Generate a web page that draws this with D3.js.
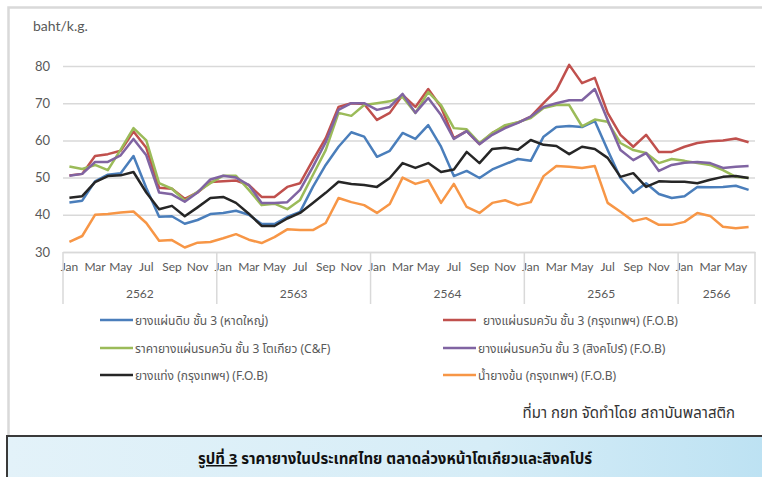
<!DOCTYPE html>
<html>
<head>
<meta charset="utf-8">
<script src="https://cdn.jsdelivr.net/npm/d3@7"></script>
<style>
  body { margin: 0; background: #fff; }
  svg { display: block; font-family: "Noto Sans Thai", "Noto Sans", "DejaVu Sans", sans-serif; }
</style>
</head>
<body>
<div id="chart"></div>
<script>
// months Jan 2562 .. Jun 2566
const monthNames = ["Jan","Feb","Mar","Apr","May","Jun","Jul","Aug","Sep","Oct","Nov","Dec"];
const years = ["2562", "2563", "2564", "2565", "2566"];
const monthsInYear = [12, 12, 12, 12, 6];
const yTicks = [30, 40, 50, 60, 70, 80];

const rawSheet = [43.3, 43.8, 49, 50.8, 51.2, 55.8, 47.2, 39.5, 39.6, 37.6, 38.6, 40.2,
  40.5, 41.1, 40, 37.5, 37.5, 39.4, 40.8, 47.5, 53.4, 58.3, 62.2, 61,
  55.6, 57.2, 62, 60.4, 64.1, 58.3, 50.4, 51.8, 49.9, 52.2, 53.6, 55,
  54.5, 61, 63.6, 63.9, 63.6, 65.2, 57.4, 49.9, 45.9, 48.5, 45.6, 44.5,
  45, 47.5, 47.4, 47.5, 47.8, 46.7];
const rssBangkok = [50.6, 51, 55.8, 56.3, 57.2, 62.4, 58, 47.3, 47, 44.3, 46, 48.8,
  49, 49.2, 48, 44.8, 44.8, 47.5, 48.5, 54.7, 60.6, 69, 70, 69.8,
  65.5, 67.4, 72.2, 69, 73.8, 69, 60.6, 62.5, 59, 62, 63.8, 64.8,
  66.4, 70, 73.5, 80.3, 75.4, 76.8, 67.4, 61.5, 58.3, 61.5, 56.9, 56.9,
  58.3, 59.3, 59.8, 60, 60.5, 59.5];
const rssTokyo = [53, 52.3, 53.4, 52, 57.5, 63.3, 60, 48.5, 47, 43.8, 46.2, 48.5,
  50.5, 50.5, 46.7, 42.6, 43, 41.5, 44, 50.7, 57.4, 67.4, 66.6, 69.5,
  70, 70.5, 71.7, 67.4, 73, 69.5, 63.3, 63, 59.3, 62, 64.1, 64.9,
  66, 68.7, 69.5, 69.5, 63.8, 65.6, 65, 59.3, 57.4, 56.6, 53.9, 55,
  54.5, 53.9, 53.4, 52, 50.2, 49.9];
const rssSingapore = [50.5, 51, 54.2, 54.2, 56, 60.4, 56, 46, 45.5, 43.5, 46, 49.5,
  50.5, 50, 48, 43.2, 43.2, 43.4, 46.7, 52.9, 59.5, 68.2, 70, 70,
  68.2, 69, 72.5, 67.4, 71.4, 66.8, 60.4, 62.5, 59, 61.5, 63.3, 64.7,
  66.4, 69, 70, 70.8, 70.8, 73.8, 65.5, 57.4, 54.7, 56.6, 51.8, 53.4,
  54, 54.2, 53.9, 52.6, 52.9, 53.1];
const blockRubber = [44.6, 45, 48.8, 50.4, 50.6, 51.5, 46, 41.5, 42.4, 39.6, 42, 44.5,
  44.8, 43.2, 40.3, 37, 37, 39, 40.5, 43.2, 45.9, 48.9, 48.3, 48,
  47.5, 49.9, 53.9, 52.6, 53.9, 51.5, 52.2, 56.9, 53.9, 57.7, 58, 57.5,
  60.1, 58.8, 58.5, 56.3, 58.3, 57.7, 55.3, 50.2, 51.2, 47.5, 49, 48.9,
  48.9, 48.5, 49.4, 50.2, 50.4, 49.9];
const latex = [32.7, 34.3, 40, 40.2, 40.6, 40.9, 37.8, 33, 33.2, 31.2, 32.5, 32.7,
  33.7, 34.8, 33.3, 32.4, 34, 36.1, 35.9, 35.9, 37.8, 44.5, 43.4, 42.6,
  40.5, 42.9, 50, 48.3, 49.3, 43.2, 48.3, 42.1, 40.5, 43.2, 43.9, 42.6,
  43.4, 50.4, 53.1, 52.9, 52.6, 53.1, 43.2, 40.8, 38.3, 39.1, 37.3, 37.3,
  38.1, 40.5, 39.7, 36.8, 36.4, 36.7];

const seriesNames = [
  "ยางแผ่นดิบ ชั้น 3 (หาดใหญ่)",
  "ยางแผ่นรมควัน ชั้น 3 (กรุงเทพฯ) (F.O.B)",
  "ราคายางแผ่นรมควัน ชั้น 3 โตเกียว (C&F)",
  "ยางแผ่นรมควัน ชั้น 3 (สิงคโปร์) (F.O.B)",
  "ยางแท่ง (กรุงเทพฯ) (F.O.B)",
  "น้ำยางข้น (กรุงเทพฯ) (F.O.B)"
];
const seriesValues = [rawSheet, rssBangkok, rssTokyo, rssSingapore, blockRubber, latex];
const seriesColors = ["#4a7ebb", "#c0504d", "#9bbb59", "#8064a2", "#262626", "#f79646"];

// month keys
const months = [];
years.forEach((yr, yi) => {
  for (let m = 0; m < monthsInYear[yi]; m++) months.push({ key: yr + "-" + m, year: yr, m: m });
});

const width = 762, height = 477;
const plot = { left: 63, right: 755, top: 66, bottom: 252 };

const svg = d3.select("#chart").append("svg")
  .attr("width", width).attr("height", height);

const defs = svg.append("defs");
const grad = defs.append("linearGradient").attr("id", "capgrad")
  .attr("x1", "0").attr("y1", "0").attr("x2", "1").attr("y2", "0");
grad.append("stop").attr("offset", "0%").attr("stop-color", "#e3f2f9");
grad.append("stop").attr("offset", "60%").attr("stop-color", "#d6edf7");
grad.append("stop").attr("offset", "100%").attr("stop-color", "#b9e0f2");

// outer frame
svg.append("rect")
  .attr("x", 8.5).attr("y", 7.5).attr("width", 780).attr("height", 440)
  .attr("fill", "#fff").attr("stroke", "#d9d9d9").attr("stroke-width", 2.5);

const x = d3.scaleBand()
  .domain(months.map(d => d.key))
  .range([plot.left, plot.right])
  .padding(0);
const cx = k => x(k) + x.bandwidth() / 2;

const y = d3.scaleLinear()
  .domain([30, 80])
  .range([plot.bottom, plot.top]);

// gridlines
const yAxis = d3.axisLeft(y).tickValues(yTicks).tickSize(-(plot.right - plot.left)).tickPadding(13);
const gy = svg.append("g")
  .attr("transform", `translate(${plot.left},0)`)
  .call(yAxis);
gy.select(".domain").remove();
gy.selectAll(".tick line").attr("stroke", "#d9d9d9").attr("stroke-width", 1.5);
gy.selectAll(".tick text").attr("fill", "#595959").attr("font-size", 13)
  .attr("font-family", "Lato, 'Noto Sans', sans-serif");

svg.append("text")
  .attr("x", 33).attr("y", 31)
  .attr("fill", "#595959").attr("font-size", 14)
  .attr("font-family", "Lato, 'Noto Sans', sans-serif")
  .text("baht/k.g.");

// month axis
const xAxis = d3.axisBottom(x)
  .tickValues(months.filter(d => d.m % 2 === 0).map(d => d.key))
  .tickFormat(k => monthNames[+k.split("-")[1]])
  .tickSize(0).tickPadding(10);
const gx = svg.append("g")
  .attr("transform", `translate(0,${plot.bottom})`)
  .call(xAxis);
gx.select(".domain").attr("stroke", "#d9d9d9").attr("stroke-width", 1.5);
gx.selectAll(".tick text").attr("fill", "#595959").attr("font-size", 12)
  .attr("font-family", "Lato, 'Noto Sans', sans-serif");

// year groups
let start = 0;
const yearSpans = years.map((yr, yi) => {
  const s = months[start].key, e = months[start + monthsInYear[yi] - 1].key;
  start += monthsInYear[yi];
  return { yr, x0: x(s), x1: x(e) + x.bandwidth() };
});
const seps = [yearSpans[0].x0].concat(yearSpans.map(d => d.x1));
svg.append("g").selectAll("line").data(seps).join("line")
  .attr("x1", d => d).attr("x2", d => d)
  .attr("y1", plot.bottom).attr("y2", 304)
  .attr("stroke", "#d9d9d9").attr("stroke-width", 1.5);
svg.append("g").selectAll("text").data(yearSpans).join("text")
  .attr("x", d => (d.x0 + d.x1) / 2).attr("y", 298)
  .attr("text-anchor", "middle")
  .attr("fill", "#595959").attr("font-size", 12)
  .attr("font-family", "Lato, 'Noto Sans', sans-serif")
  .text(d => d.yr);

// lines
const line = d3.line()
  .x((d, i) => cx(months[i].key))
  .y(d => y(d));
svg.append("g").selectAll("path").data(seriesValues).join("path")
  .attr("d", d => line(d))
  .attr("fill", "none")
  .attr("stroke", (d, i) => seriesColors[i])
  .attr("stroke-width", 2.5)
  .attr("stroke-linejoin", "round");

// legend
const legendPos = [
  { x: 100, y: 320 }, { x: 443, y: 320 },
  { x: 100, y: 348 }, { x: 443, y: 348 },
  { x: 100, y: 375 }, { x: 443, y: 375 }
];
const lg = svg.append("g").selectAll("g").data(seriesNames).join("g")
  .attr("transform", (d, i) => `translate(${legendPos[i].x},${legendPos[i].y})`);
lg.append("line")
  .attr("x1", 0).attr("x2", 33).attr("y1", 0).attr("y2", 0)
  .attr("stroke", (d, i) => seriesColors[i]).attr("stroke-width", 2.5);
lg.append("text")
  .attr("x", (d, i) => i === 1 ? 40 : 35).attr("y", 4.5)
  .attr("fill", "#595959").attr("font-size", 12)
  .text(d => d);

// source
svg.append("text")
  .attr("x", 735).attr("y", 418)
  .attr("text-anchor", "end")
  .attr("fill", "#333").attr("font-size", 15)
  .text("ที่มา กยท จัดทำโดย สถาบันพลาสติก");

// caption box
svg.append("rect")
  .attr("x", 7).attr("y", 436).attr("width", 800).attr("height", 60)
  .attr("fill", "url(#capgrad)").attr("stroke", "#3a3a3a").attr("stroke-width", 2);
const cap = svg.append("text")
  .attr("x", 395).attr("y", 464)
  .attr("text-anchor", "middle")
  .attr("fill", "#111").attr("font-size", 15).attr("font-weight", "bold");
cap.append("tspan").attr("text-decoration", "underline").text("รูปที่ 3");
cap.append("tspan").text(" ราคายางในประเทศไทย ตลาดล่วงหน้าโตเกียวและสิงคโปร์");
</script>
</body>
</html>
